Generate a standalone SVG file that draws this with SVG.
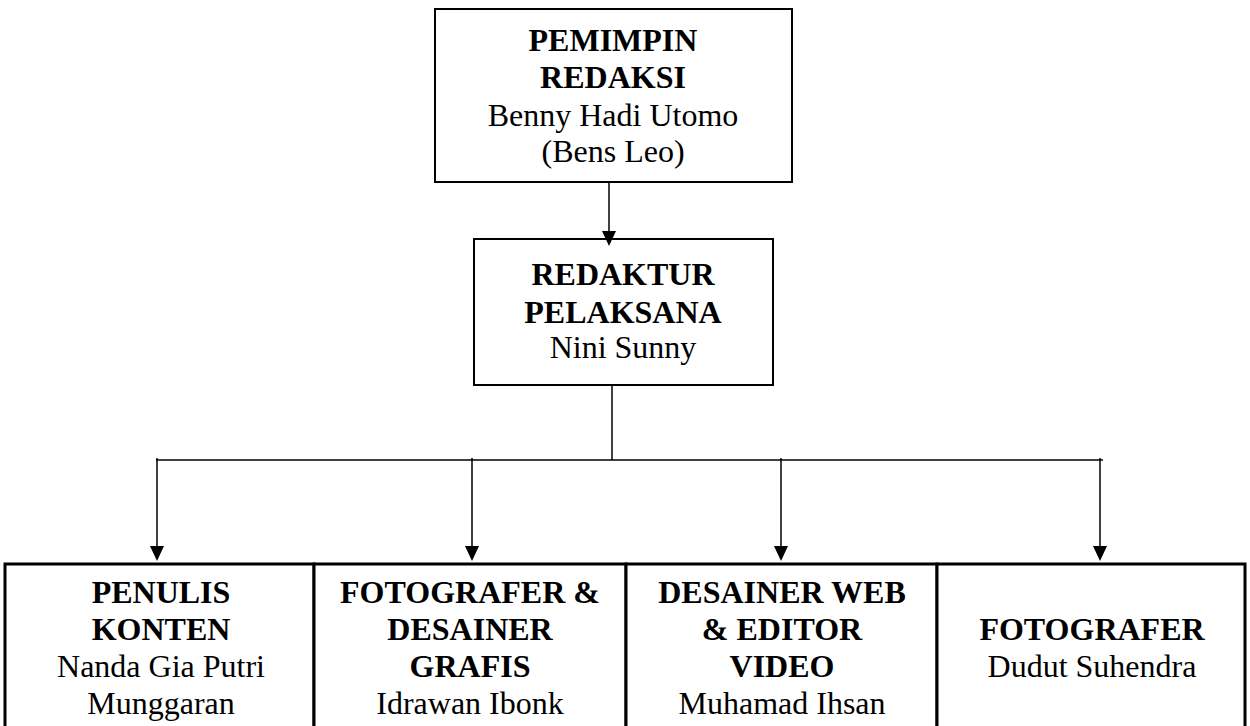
<svg xmlns="http://www.w3.org/2000/svg" width="1250" height="726" viewBox="0 0 1250 726">
<style>
  .box { fill: #ffffff; stroke: #000000; stroke-width: 2; }
  .cell { fill: #ffffff; stroke: #000000; stroke-width: 3; }
  .t { font-family: "Liberation Serif", "Times New Roman", serif; font-size: 32px; fill: #000000; text-anchor: middle; }
  .b { font-weight: bold; }
  .conn { stroke: #000000; stroke-width: 1.5; fill: none; }
  .head { fill: #000000; }
</style>
<rect width="1250" height="726" fill="#ffffff"/>

<g id="pemimpin-redaksi">
  <rect class="box" x="435" y="9" width="357" height="173"/>
  <text class="t b" x="613" y="51">PEMIMPIN</text>
  <text class="t b" x="613" y="88">REDAKSI</text>
  <text class="t" x="613" y="126">Benny Hadi Utomo</text>
  <text class="t" x="613" y="162">(Bens Leo)</text>
</g>

<g id="redaktur-pelaksana">
  <rect class="box" x="474" y="239" width="299" height="146"/>
  <text class="t b" x="623" y="285">REDAKTUR</text>
  <text class="t b" x="623" y="323">PELAKSANA</text>
  <text class="t" x="623" y="358">Nini Sunny</text>
</g>

<g id="penulis-konten">
  <rect class="cell" x="5" y="564" width="309" height="180"/>
  <text class="t b" x="161" y="603">PENULIS</text>
  <text class="t b" x="161" y="640">KONTEN</text>
  <text class="t" x="161" y="677">Nanda Gia Putri</text>
  <text class="t" x="161" y="714">Munggaran</text>
</g>

<g id="fotografer-desainer-grafis">
  <rect class="cell" x="314" y="564" width="312" height="180"/>
  <text class="t b" x="470" y="603">FOTOGRAFER &amp;</text>
  <text class="t b" x="470" y="640">DESAINER</text>
  <text class="t b" x="470" y="677">GRAFIS</text>
  <text class="t" x="470" y="714">Idrawan Ibonk</text>
</g>

<g id="desainer-web-editor-video">
  <rect class="cell" x="626" y="564" width="311" height="180"/>
  <text class="t b" x="782" y="603">DESAINER WEB</text>
  <text class="t b" x="782" y="640">&amp; EDITOR</text>
  <text class="t b" x="782" y="677">VIDEO</text>
  <text class="t" x="782" y="714">Muhamad Ihsan</text>
</g>

<g id="fotografer">
  <rect class="cell" x="937" y="564" width="308" height="180"/>
  <text class="t b" x="1092" y="640">FOTOGRAFER</text>
  <text class="t" x="1092" y="677">Dudut Suhendra</text>
</g>

<g id="connectors">
  <line class="conn" x1="609" y1="182" x2="609" y2="232"/>
  <path class="head" d="M602,231 L616,231 L609,246 Z"/>
  <line class="conn" x1="612" y1="386" x2="612" y2="460"/>
  <line class="conn" x1="156" y1="460" x2="1103" y2="460"/>
  <line class="conn" x1="157" y1="458" x2="157" y2="547"/>
  <path class="head" d="M150,546 L164,546 L157,561 Z"/>
  <line class="conn" x1="472" y1="458" x2="472" y2="547"/>
  <path class="head" d="M465,546 L479,546 L472,561 Z"/>
  <line class="conn" x1="781" y1="458" x2="781" y2="547"/>
  <path class="head" d="M774,546 L788,546 L781,561 Z"/>
  <line class="conn" x1="1100" y1="458" x2="1100" y2="547"/>
  <path class="head" d="M1093,546 L1107,546 L1100,561 Z"/>
</g>
</svg>
